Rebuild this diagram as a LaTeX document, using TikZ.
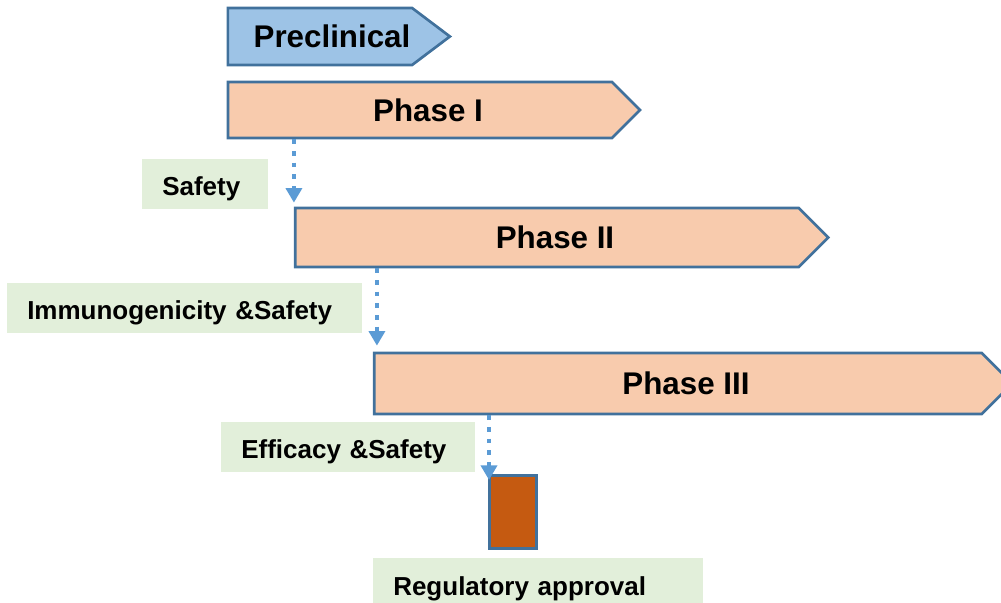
\documentclass[tikz,border=0pt]{standalone}
\usepackage{fontspec}
\setmainfont{Liberation Sans}
\usepackage{tikz}
\usetikzlibrary{
    shapes.symbols,
    arrows.meta,
    positioning,
    calc
}
\definecolor{stageblue}{HTML}{9DC3E6}
\definecolor{stagepeach}{HTML}{F8CBAD}
\definecolor{stageedge}{HTML}{41719C}
\definecolor{notegreen}{HTML}{E2EFDA}
\definecolor{approvebrown}{HTML}{C55A11}
\definecolor{dotblue}{HTML}{5B9BD5}

\begin{document}
\begin{tikzpicture}[
            x=0.75pt, y=-0.75pt,
            stage/.style={signal, signal to=east, signal pointer angle=90, draw=stageedge, line width=2pt, fill=stagepeach, inner sep=0pt, font=\fontsize{23.5}{28}\selectfont\bfseries},
            tag/.style={fill=notegreen, anchor=north west, inner xsep=15pt, inner ysep=0pt, minimum height=37.5pt, text height=18pt, text depth=0.5pt, align=left, font=\fontsize{19.5}{23}\selectfont\bfseries},
            dotarr/.style={-{Triangle[length=11pt, width=12pt]}, dotblue, line width=3pt, dash pattern=on 3.5pt off 5.25pt},
        ]
            \useasboundingbox (0,0) rectangle (1001,603);
            \clip (0,0) rectangle (1001,603);

            % ====== Stage arrows ======
            \node[stage, fill=stageblue, signal pointer angle=74, minimum width=166.5pt, minimum height=42.75pt]
                (precl) at (320,36.5) {\hspace*{18pt}Preclinical};
            \node[stage, minimum width=309pt, minimum height=42pt]
                (phaseI) at (420,110) {\hspace*{12pt}Phase I};
            \node[stage, minimum width=399.75pt, minimum height=44.25pt]
                (phaseII) at (547,237.5) {\hspace*{12pt}Phase II};
            \node[stage, minimum width=478.5pt, minimum height=45.75pt]
                (phaseIII) at (678,383.5) {\hspace*{12pt}Phase III};

            \node[
                draw=stageedge,
                line width=2pt,
                fill=approvebrown,
                anchor=north west,
                minimum width=35.25pt,
                minimum height=54.75pt
            ] (approval) at (488,474) {};

            % ====== Notes ======
            \node[tag, text width=64.5pt] (safety) at (142,159) {Safety};
            \node[tag, text width=236pt] (immuno) at (7,283) {Immunogenicity \&Safety};
            \node[tag, text width=160.5pt] (efficacy) at (221,422) {Efficacy \&Safety};
            \node[tag, text width=217.5pt, minimum height=39pt] (regul) at (373,558) {Regulatory approval};

            % ====== Dotted arrows ======
            \draw[dotarr]
                (phaseI.south -| phaseII.west) -- ($(phaseII.west |- phaseII.north)+(0,-4)$);
            \draw[dotarr]
                ($(phaseII.south -| phaseIII.west)+(4,0)$) -- ($(phaseIII.west |- phaseIII.north)+(4,-6)$);
            \draw[dotarr]
                ($(phaseIII.south -| approval.west)+(1,0)$) -- ($(approval.north west)+(1,6)$);
        \end{tikzpicture}
\end{document}
